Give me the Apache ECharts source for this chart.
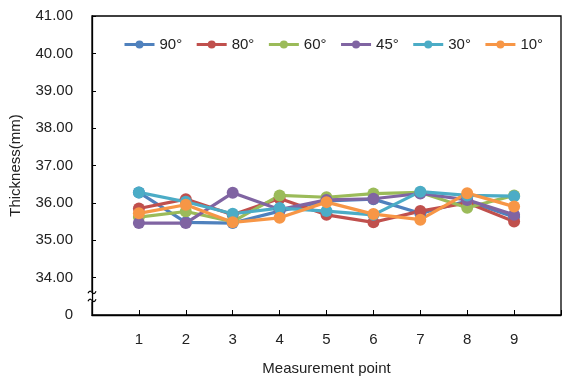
<!DOCTYPE html>
<html><head><meta charset="utf-8">
<script src="https://cdn.jsdelivr.net/npm/echarts@6/dist/echarts.min.js"></script>
<style>html,body{margin:0;padding:0;background:#fff}#c{width:565px;height:379px}</style>
</head><body><div id="c"></div>
<script>
const points = [1,2,3,4,5,6,7,8,9];
const names = ['90°','80°','60°','45°','30°','10°'];
const colors = ['#4F81BD','#C0504D','#9BBB59','#8064A2','#4BACC6','#F79646'];
const s90 = [36.28, 35.48, 35.46, 35.78, 36.05, 36.10, 35.72, 36.05, 35.62];
const s80 = [35.85, 36.10, 35.68, 36.12, 35.68, 35.48, 35.78, 36.00, 35.50];
const s60 = [35.62, 35.77, 35.50, 36.20, 36.15, 36.25, 36.28, 35.87, 36.20];
const s45 = [35.46, 35.46, 36.27, 35.82, 36.08, 36.11, 36.25, 36.08, 35.68];
const s30 = [36.28, 36.03, 35.71, 35.86, 35.78, 35.68, 36.30, 36.20, 36.18];
const s10 = [35.72, 35.95, 35.48, 35.60, 36.02, 35.70, 35.55, 36.26, 35.90];
const allSeries = [s90, s80, s60, s45, s30, s10];
const yBreakValue = 33; // shown as "0"

const chart = echarts.init(document.getElementById('c'), null, {renderer:'canvas'});
const font = '"Liberation Sans", Arial, sans-serif';
chart.setOption({
  animation:false,
  textStyle:{fontFamily:font},
  color: colors,
  grid:{left:92, right:4, top:16, bottom:64, show:true, borderColor:'#000', borderWidth:1.3,
    containLabel:false, outerBoundsMode:'none'},
  legend:{top:32, left:118, itemGap:13, itemWidth:30, itemHeight:10,
    lineStyle:{width:3},
    textStyle:{fontSize:15, color:'#222', fontFamily:font},
    data: names},
  xAxis:{type:'value', min:0, max:10, interval:1,
    name:'Measurement point', nameLocation:'middle', nameGap:46,
    nameTextStyle:{fontSize:15, color:'#222'},
    axisLine:{lineStyle:{color:'#000', width:1.3}},
    axisTick:{inside:true, length:5, lineStyle:{color:'#000'}},
    splitLine:{show:false},
    axisLabel:{fontSize:15, color:'#222', margin:17, formatter:v=> (v>=1&&v<=9)? String(v):''}},
  yAxis:{type:'value', min:33, max:41, interval:1,
    name:'Thickness(mm)', nameLocation:'middle', nameGap:69,
    nameTextStyle:{fontSize:15, color:'#222'},
    axisLine:{show:true, lineStyle:{color:'#000', width:1.3}},
    axisTick:{show:true, inside:true, length:4, lineStyle:{color:'#000'}},
    splitLine:{show:false},
    axisLabel:{fontSize:15, color:'#222', margin:19, formatter:v=> v===yBreakValue ? '0' : v.toFixed(2)}},
  series: names.map((n,i)=>({
    name:n, type:'line', symbol:'circle', symbolSize:12,
    lineStyle:{width:3.2, color:colors[i]}, itemStyle:{color:colors[i]},
    data: points.map((p,j)=>[p, allSeries[i][j]])
  }))
});
// axis break mark
const p1 = chart.convertToPixel({gridIndex:0}, [0, 33.5]);
const x = p1[0], y = p1[1];
function wave(cy){
  return {type:'bezierCurve', shape:{x1:x-4, y1:cy+1, x2:x+4, y2:cy-1, cpx1:x-1, cpy1:cy-6, cpx2:x+1, cpy2:cy+6},
    style:{stroke:'#000', lineWidth:1.2, fill:null}};
}
chart.setOption({graphic:[
  {type:'rect', shape:{x:x-3, y:y-5, width:6, height:10}, style:{fill:'#fff'}},
  wave(y-4), wave(y+4)
]});
</script></body></html>
